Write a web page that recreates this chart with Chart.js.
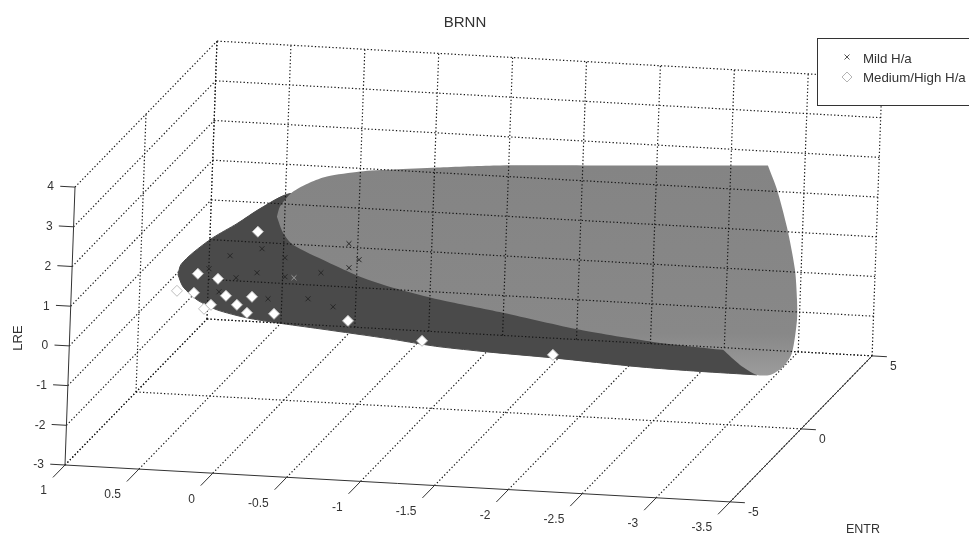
<!DOCTYPE html>
<html>
<head>
<meta charset="utf-8">
<style>html,body{margin:0;padding:0;background:#fff}canvas{display:block}</style>
<script src="https://cdn.jsdelivr.net/npm/chart.js@4"></script>
</head>
<body>
<canvas id="c" width="969" height="538"></canvas>
<script>
// Axis ticks (third horizontal axis, ENTR, LRE)
const xTicks = [1, 0.5, 0, -0.5, -1, -1.5, -2, -2.5, -3, -3.5];
const entrTicks = [-5, 0, 5];
const lreTicks = [4, 3, 2, 1, 0, -1, -2, -3];

// Dark surface outline (repeated entries keep a sharp corner)
const darkX = [0.745,0.728,0.649,0.518,0.359,0.207,0.008,-0.264,-0.264,-3.269,-3.269,-3.189,-3.189,-2.803,-2.397,-1.807,-1.360,-1.042,-0.906,-0.703,-0.227,0.065,0.269,0.473,0.610,0.708,0.745];
const darkZ = [0.006,0.262,0.581,0.987,1.373,1.783,2.202,2.107,2.107,-0.804,-0.804,-1.704,-1.704,-1.696,-1.666,-1.561,-1.502,-1.441,-1.394,-1.310,-1.156,-1.065,-0.981,-0.822,-0.598,-0.289,0.006];

// Light surface outline (repeated entries keep a sharp corner)
const lightX = [0.091,0.073,-0.004,-0.124,-0.237,-0.459,-0.681,-0.978,-1.403,-2.078,-2.800,-3.212,-3.212,-3.279,-3.356,-3.420,-3.441,-3.446,-3.420,-3.363,-3.277,-3.189,-3.072,-2.954,-2.954,-2.479,-1.983,-1.459,-1.030,-0.710,-0.485,-0.258,-0.024,0.046,0.091];
const lightZ = [1.605,1.861,2.231,2.507,2.683,2.855,2.951,3.063,3.202,3.341,3.491,3.576,3.576,2.984,2.041,0.994,0.240,-0.263,-1.102,-1.466,-1.686,-1.704,-1.476,-1.122,-1.122,-1.019,-0.818,-0.497,-0.258,-0.021,0.210,0.542,0.922,1.210,1.605];

// Mild H/a samples
const mildX = [-0.402,-0.474,-0.408,0.184,0.398,0.027,0.537,0.352,0.212,0.022,-0.039,-0.220,0.464,0.131,-0.139,-0.310];
const mildZ = [1.026,0.637,0.421,0.778,0.557,0.583,0.200,0.012,0.166,0.105,0.093,0.256,-0.365,-0.473,-0.417,-0.584];

// Medium/High H/a samples
const highX = [0.216,0.611,0.474,0.633,0.748,0.416,0.240,0.340,0.515,0.561,0.270,0.087,-0.414,-0.919,-1.806];
const highZ = [1.20,0.059,-0.039,-0.425,-0.399,-0.456,-0.445,-0.668,-0.704,-0.814,-0.855,-0.842,-0.916,-1.315,-1.485];

// View projection of the 3-D box onto the page
const project = (x, y, z) => ({
  x: 65 + (1 - x) * 147.8 + (y + 5) * 14.2 + (z + 3) * 1.43,
  y: 465 + (1 - x) * 8.2 - (y + 5) * 14.6 - (z + 3) * 39.7
});
const FONT = '"Liberation Sans", Arial, sans-serif';
const X0 = xTicks[0], X1 = xTicks[xTicks.length - 1];
const Y0 = entrTicks[0], Y1 = entrTicks[entrTicks.length - 1];
const Z0 = lreTicks[lreTicks.length - 1], Z1 = lreTicks[0];

const seg = (a, b, color, dash, order, width) => ({
  type: 'scatter', showLine: true, data: [project(...a), project(...b)],
  borderColor: color, borderWidth: width || 1, borderDash: dash || [], pointRadius: 0,
  order, clip: false
});
const DOT = [1.3, 2.2], GRID = '#151515', AXIS = '#333333', GW = 1.2;

const datasets = [];
// floor grid
xTicks.forEach(x => datasets.push(seg([x, Y0, Z0], [x, Y1, Z0], GRID, DOT, 50, GW)));
entrTicks.slice(1).forEach(y => datasets.push(seg([X0, y, Z0], [X1, y, Z0], GRID, DOT, 50, GW)));
// left wall grid
lreTicks.forEach(z => datasets.push(seg([X0, Y0, z], [X0, Y1, z], GRID, DOT, 50, GW)));
entrTicks.slice(1).forEach(y => datasets.push(seg([X0, y, Z0], [X0, y, Z1], GRID, DOT, 50, GW)));

const canvas = document.getElementById('c');
const ctx = canvas.getContext('2d');
const lightFill = ctx.createLinearGradient(0, 166, 0, 376);
lightFill.addColorStop(0, '#848484');
lightFill.addColorStop(0.8, '#888888');
lightFill.addColorStop(1, '#9c9c9c');

datasets.push({
  type: 'scatter', label: 'dark surface', showLine: true, order: 40, fill: 'shape', clip: false, tension: 0.25,
  data: darkX.map((x, i) => project(x, 0, darkZ[i])),
  borderColor: '#4a4a4a', backgroundColor: '#4a4a4a', borderWidth: 1, pointRadius: 0
});
datasets.push({
  type: 'scatter', label: 'light surface', showLine: true, order: 30, fill: 'shape', clip: false, tension: 0.25,
  data: lightX.map((x, i) => project(x, 0, lightZ[i])),
  borderColor: 'rgba(0,0,0,0)', backgroundColor: lightFill, borderWidth: 0, pointRadius: 0
});
// back wall grid, seen through the surface
lreTicks.forEach(z => datasets.push(seg([X0, Y1, z], [X1, Y1, z], GRID, DOT, 20, GW)));
xTicks.forEach(x => datasets.push(seg([x, Y1, Z0], [x, Y1, Z1], GRID, DOT, 20, GW)));
// axes
datasets.push(seg([X0, Y0, Z0], [X1, Y0, Z0], AXIS, [], 15));
datasets.push(seg([X1, Y0, Z0], [X1, Y1, Z0], AXIS, [], 15));
datasets.push(seg([X0, Y0, Z0], [X0, Y0, Z1], AXIS, [], 15));
// tick marks
lreTicks.forEach(z => datasets.push(seg([X0, Y0, z], [X0 + 0.1, Y0, z], AXIS, [], 15)));
entrTicks.forEach(y => datasets.push(seg([X1, y, Z0], [X1 - 0.1, y, Z0], AXIS, [], 15)));
xTicks.forEach(x => datasets.push(seg([x, Y0, Z0], [x, Y0 - 0.85, Z0], AXIS, [], 15)));

datasets.push({
  type: 'scatter', label: 'Mild H/a', order: 10, clip: false,
  data: mildX.map((x, i) => project(x, 0, mildZ[i])),
  pointStyle: 'crossRot', pointRadius: 3.5, pointBorderWidth: 1,
  pointBorderColor: c => c.dataIndex === 10 ? '#9a9a9a' : '#262626',
  pointBackgroundColor: 'rgba(0,0,0,0)'
});
datasets.push({
  type: 'scatter', label: 'Medium/High H/a', order: 5, clip: false,
  data: highX.map((x, i) => project(x, 0, highZ[i])),
  pointStyle: 'rectRot', pointRadius: 5.5, pointBorderWidth: 1,
  pointBorderColor: '#bdbdbd', pointBackgroundColor: '#ffffff'
});

const annotate = {
  id: 'annotate',
  afterDraw(chart) {
    const g = chart.ctx;
    g.save();
    g.fillStyle = '#333333';
    const text = (s, x, y, align, size) => {
      g.font = (size || 12) + 'px ' + FONT;
      g.textAlign = align; g.textBaseline = 'middle';
      g.fillText(s, x, y);
    };
    xTicks.forEach(v => {
      const p = project(v, Y0, Z0);
      text(String(v), p.x - 18, p.y + 26, 'right');
    });
    entrTicks.forEach(v => {
      const p = project(X1, v, Z0);
      text(String(v), p.x + 18, p.y + 11, 'left');
    });
    lreTicks.forEach(v => {
      const p = project(X0, Y0, v);
      text(String(v), p.x - 21, p.y, 'right');
    });
    text('BRNN', 465, 23, 'center', 15);
    text('ENTR', 863, 530, 'center', 12.5);
    g.save();
    g.translate(18, 338); g.rotate(-Math.PI / 2);
    text('LRE', 0, 0, 'center', 13);
    g.restore();

    // legend
    g.fillStyle = '#ffffff';
    g.fillRect(817, 38, 160, 67);
    g.strokeStyle = '#333333'; g.lineWidth = 1;
    g.strokeRect(817.5, 38.5, 160, 67);
    g.fillStyle = '#333333';
    text('Mild H/a', 863, 59, 'left', 13.3);
    text('Medium/High H/a', 863, 78, 'left', 13.3);
    g.strokeStyle = '#555555';
    g.beginPath(); g.moveTo(844.5,54.5); g.lineTo(849.5,59.5); g.moveTo(849.5,54.5); g.lineTo(844.5,59.5); g.stroke();
    g.strokeStyle = '#b4b4b4';
    g.beginPath(); g.moveTo(847,72); g.lineTo(852,77); g.lineTo(847,82); g.lineTo(842,77); g.closePath(); g.stroke();
    g.restore();
  }
};

new Chart(ctx, {
  type: 'scatter',
  data: { datasets },
  options: {
    responsive: false, animation: false,
    layout: { padding: 0, autoPadding: false },
    plugins: { legend: { display: false }, title: { display: false }, tooltip: { enabled: false },
               filler: { drawTime: 'beforeDatasetDraw' } },
    scales: {
      x: { type: 'linear', min: 0, max: 969, display: false },
      y: { type: 'linear', min: 0, max: 538, reverse: true, display: false }
    }
  },
  plugins: [annotate]
});
</script>
</body>
</html>
